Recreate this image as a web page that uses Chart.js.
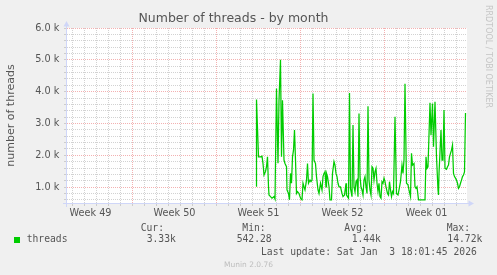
<!DOCTYPE html>
<html><head><meta charset="utf-8">
<script src="https://cdn.jsdelivr.net/npm/chart.js@4.4.1/dist/chart.umd.min.js"></script>
<style>
html,body{margin:0;padding:0;background:#f0f0f0;}
#wrap{position:relative;width:497px;height:275px;overflow:hidden;background:#f0f0f0;}
canvas{position:absolute;left:0;top:0;}
.t{position:absolute;white-space:pre;line-height:1;font-family:'DejaVu Sans Mono',monospace;font-size:9.7px;color:#555;}
</style></head><body>
<div id="wrap"><canvas id="c" width="497" height="275"></canvas></div>
<script>
// ---- data (hours relative to week boundary Sun 2025-12-28 00:00) ----
const hours = [
  -257,-256,-252,-248,-245,-243,-241,-238,-236,-234,
  -232,-231,-228,-225,-221,-219,-216,-213,-211,-208,
  -206,-204,-201,-199,-196,-195,-192,-190,-188,-186,
  -184,-182,-180,-178,-176,-174,-171,-169,-167,-165,
  -163,-161,-159,-156,-154,-152,-149,-147,-145,-143,
  -141,-138,-136,-133,-131,-128,-125,-123,-121,-119,
  -117,-116,-114,-111,-109,-106,-104,-101,-99,-97,
  -95,-93,-91,-88,-85,-83,-80,-77,-76,-74,
  -72,-70,-68,-65,-63,-61,-59,-57,-55,-53,
  -51,-49,-47,-45,-43,-41,-39,-37,-35,-33,
  -31,-29,-27,-25,-23,-21,-19,-17,-15,-13,
  -11,-9,-7,-5,-3,-1,1,3,6,8,
  10,12,14,16,18,21,24,27,29,32,
  35,37,39,41,44,47,49,52,54,56,
  59,61,63,65,68,81,83,85,87,91,
  93,96,98,101,104,107,108,109,113,115,
  117,119,121,124,126,128,130,132,134,136,
  138,140,142,144,146,148,150,152,154,156,
  158,160,162
];
const threads = [
  1030,3750,1950,1950,1970,1740,1380,1490,1640,1950,
  1010,750,700,650,700,620,4100,1750,3730,5000,
  1950,3730,1850,1740,1640,910,800,600,1430,1120,
  1950,2160,2790,1850,800,860,800,700,620,600,
  1120,1010,910,1220,1740,1120,1220,1170,1220,3940,
  1850,1740,1330,910,800,1120,910,1330,1430,1480,
  1010,1430,1330,1010,600,600,1430,1800,1690,1430,
  1330,1120,1010,1010,800,700,750,1120,750,700,
  650,3960,960,700,2950,1010,850,1170,1220,700,
  3310,1330,1010,910,750,1220,1330,1010,800,3540,
  1220,910,750,1640,1590,1220,1480,1590,1120,860,
  1120,700,650,1170,1120,1280,1170,1010,800,750,
  1170,910,700,860,800,3210,800,750,910,1170,
  1690,1430,1850,4250,1120,1070,910,700,2060,1690,
  1740,1010,960,1010,600,600,1950,1590,1640,3650,
  2630,3630,2270,3680,1950,910,750,1430,2790,1850,
  1850,3420,1590,1560,1640,1690,1950,2060,2160,2320,
  1430,1330,1280,1220,1120,960,1010,1120,1220,1330,
  1380,1480,3330
];
const seriesName = 'threads';
const weekLabels = ['Week 49','Week 50','Week 51','Week 52','Week 01'];
const weekMidHours = [-588,-420,-252,-84,84];
const yTickValues = [1000,2000,3000,4000,5000,6000];
const yTickLabels = ['1.0 k','2.0 k','3.0 k','4.0 k','5.0 k','6.0 k'];
const legendHeaders = ['Cur:','Min:','Avg:','Max:'];
const legendValues = ['3.33k','542.28','1.44k','14.72k'];
const titleText = 'Number of threads - by month';
const yTitle = 'number of threads';
const lastUpdate = 'Last update: Sat Jan  3 18:01:45 2026';
const footer = 'Munin 2.0.76';
const watermark = 'RRDTOOL / TOBI OETIKER';

// ---- axis ranges / grid steps ----
const X_MIN = -635, X_MAX = 165, Y_MIN = 500, Y_MAX = 6000;
const dayTicks = []; for (let h = -624; h <= 144; h += 24) dayTicks.push(h);
const xTicks = dayTicks.concat(weekMidHours).sort((a,b)=>a-b);
const yTicks = []; for (let v = 600; v <= 6000; v += 200) yTicks.push(v);

const MAJOR = 'rgba(235,125,125,0.6)';
const MINOR = 'rgba(165,165,165,0.5)';
const TXT = '#555';
const AXIS = '#cfd6f8';

const bgPlugin = {
  id: 'bg',
  beforeDraw(chart) {
    const {ctx, chartArea: a} = chart;
    ctx.save(); ctx.fillStyle = '#ffffff';
    ctx.fillRect(a.left, a.top, a.right - a.left, a.bottom - a.top);
    ctx.restore();
  }
};
const axisPlugin = {
  id: 'axes',
  afterDraw(chart) {
    const {ctx, chartArea: a} = chart;
    ctx.save();
    ctx.strokeStyle = AXIS; ctx.fillStyle = AXIS; ctx.lineWidth = 1;
    ctx.beginPath();
    ctx.moveTo(a.left - 4, a.bottom + 0.5); ctx.lineTo(a.right + 2, a.bottom + 0.5);
    ctx.moveTo(a.left - 0.5, a.bottom + 4); ctx.lineTo(a.left - 0.5, a.top - 2);
    ctx.stroke();
    ctx.beginPath();
    ctx.moveTo(a.right + 7, a.bottom + 0.5); ctx.lineTo(a.right + 1.5, a.bottom - 2.5); ctx.lineTo(a.right + 1.5, a.bottom + 3.5); ctx.closePath(); ctx.fill();
    ctx.beginPath();
    ctx.moveTo(a.left - 0.5, a.top - 7); ctx.lineTo(a.left - 3.5, a.top - 1.5); ctx.lineTo(a.left + 2.5, a.top - 1.5); ctx.closePath(); ctx.fill();
    ctx.restore();
  }
};

new Chart(document.getElementById('c').getContext('2d'), {
  type: 'line',
  data: { datasets: [{
    label: seriesName,
    data: hours.map((h, i) => ({x: h, y: threads[i]})),
    borderColor: '#00cc00', borderWidth: 1.25, pointRadius: 0, tension: 0, fill: false
  }]},
  options: {
    responsive: false, animation: false, devicePixelRatio: 1,
    layout: {padding: {left: 0, right: 30, top: 0, bottom: 0}},
    plugins: {
      legend: {display: false}, tooltip: {enabled: false},
      title: {display: true, text: titleText, color: TXT,
        font: {family: 'DejaVu Sans', size: 12.5, weight: 'normal', lineHeight: 1.2},
        padding: {top: 11.5, bottom: 1.5}}
    },
    scales: {
      x: {
        type: 'linear', min: X_MIN, max: X_MAX,
        afterBuildTicks: s => { s.ticks = xTicks.map(v => ({value: v})); },
        afterFit: s => { s.height = 72; },
        ticks: {autoSkip: false, maxRotation: 0, minRotation: 0, padding: 1.5, color: TXT,
          font: {family: 'DejaVu Sans', size: 9.7, lineHeight: 1.2},
          callback: v => { const i = weekMidHours.indexOf(v); return i >= 0 ? weekLabels[i] : ''; }},
        grid: {
          drawTicks: true, tickLength: 3, lineWidth: 1, borderDash: [1, 1],
          color: c => weekMidHours.includes(c.tick.value) ? 'rgba(0,0,0,0)' : (c.tick.value % 168 === 0 ? MAJOR : MINOR),
          tickColor: c => weekMidHours.includes(c.tick.value) ? 'rgba(0,0,0,0)' : '#cccccc'
        },
        border: {display: false, dash: [1, 1]}
      },
      y: {
        type: 'linear', min: Y_MIN, max: Y_MAX,
        afterBuildTicks: s => { s.ticks = yTicks.map(v => ({value: v})); },
        afterFit: s => { s.width = 67; },
        ticks: {autoSkip: false, padding: 4.7, color: TXT,
          font: {family: 'DejaVu Sans', size: 9.7, lineHeight: 1.2},
          callback: v => { const i = yTickValues.indexOf(v); return i >= 0 ? yTickLabels[i] : ''; }},
        grid: {
          drawTicks: true, tickLength: 3, lineWidth: 1, borderDash: [1, 1],
          color: c => (c.tick.value % 1000 === 0 ? MAJOR : MINOR),
          tickColor: '#cccccc'
        },
        border: {display: false, dash: [1, 1]},
        title: {display: true, text: yTitle, color: TXT,
          font: {family: 'DejaVu Sans', size: 11, lineHeight: 1.2},
          padding: {top: 4.6, bottom: 0}}
      }
    }
  },
  plugins: [bgPlugin, axisPlugin]
});

// ---- legend / footer text (HTML) ----
const wrap = document.getElementById('wrap');
function addText(txt, left, baseline, fs, extra) {
  const d = document.createElement('div');
  d.className = 't';
  d.textContent = txt;
  d.style.left = left + 'px';
  d.style.fontSize = fs + 'px';
  d.style.top = (baseline - 0.846 * fs) + 'px';
  if (extra) Object.assign(d.style, extra);
  wrap.appendChild(d);
  return d;
}
const sq = document.createElement('div');
Object.assign(sq.style, {position: 'absolute', left: '14px', top: '237px', width: '6px', height: '6px', background: '#00cc00'});
wrap.appendChild(sq);
addText(seriesName, 26.7, 242.7, 9.7);
const headerX = [140.7, 242.3, 344.3, 446.7];
const valueX = [146.7, 236.7, 351.7, 447.3];
legendHeaders.forEach((h, i) => addText(h, headerX[i], 231, 9.7));
legendValues.forEach((v, i) => addText(v, valueX[i], 242.7, 9.7));
addText(lastUpdate, 261, 254.8, 9.7);
addText(footer, 0, 267.3, 7.5, {width: '497px', textAlign: 'center', fontFamily: "'DejaVu Sans', sans-serif", color: '#bdbdbd'});
addText(watermark, 491.8, 5, 8, {fontFamily: "'DejaVu Sans', sans-serif", color: '#c6c6c6', transformOrigin: '0 0', transform: 'rotate(90deg)', top: '5px'});
</script>
</body></html>
